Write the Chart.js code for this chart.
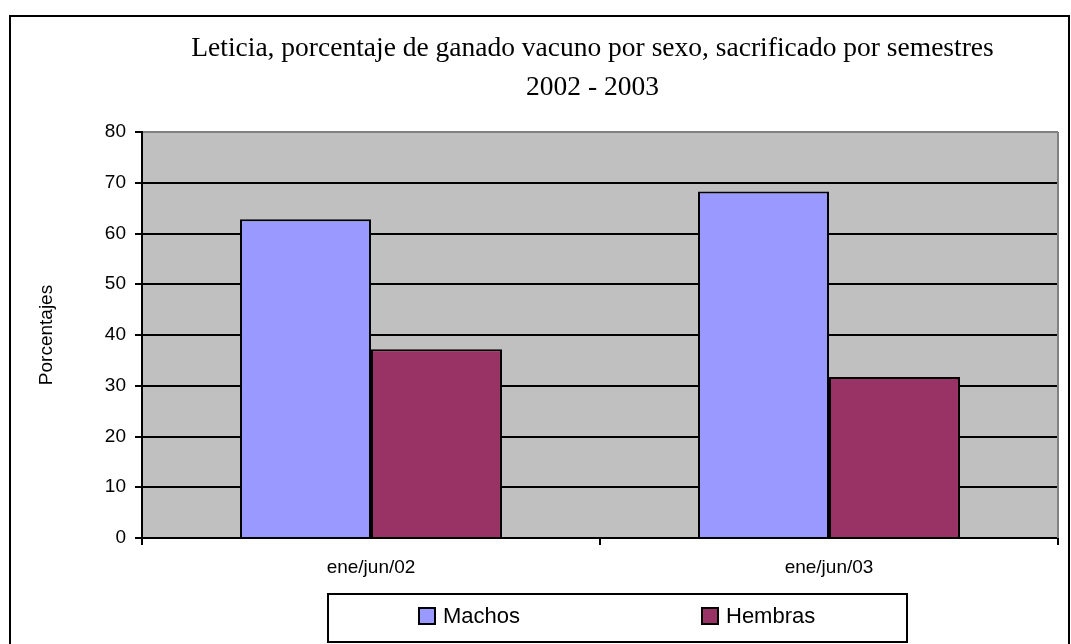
<!DOCTYPE html>
<html>
<head>
<meta charset="utf-8">
<script src="https://cdn.jsdelivr.net/npm/chart.js@4.4.1/dist/chart.umd.min.js"></script>
<style>
  body { margin: 0; background: #fff; }
  canvas { display: block; }
</style>
</head>
<body>
<canvas id="chartSacrificio" width="1071" height="644"></canvas>
<script>
const categories = ["ene/jun/02", "ene/jun/03"];
const machosValues = [62.8, 68.3];
const hembrasValues = [37.2, 31.7];
const yTicks = [0, 10, 20, 30, 40, 50, 60, 70, 80];

const chartElement = document.querySelector("#chartSacrificio");

Chart.defaults.color = "#000";
Chart.defaults.font.family = "'Liberation Sans', Arial, sans-serif";

// white page, black frame and grey plot background
const frameAndBackground = {
  id: "frameAndBackground",
  afterLayout: (chart) => {
    // the title is centred a bit left of the plot, as in the original sheet
    chart.titleBlock.left = 127;
    chart.titleBlock.right = chart.chartArea.right;
  },
  beforeDraw: (chart) => {
    const { ctx, chartArea } = chart;
    ctx.save();
    ctx.fillStyle = "#fff";
    ctx.fillRect(0, 0, chart.width, chart.height);
    ctx.strokeStyle = "#000";
    ctx.lineWidth = 2;
    ctx.strokeRect(10, 16, 1059, 700);
    ctx.fillStyle = "#C0C0C0";
    ctx.fillRect(chartArea.left, chartArea.top, chartArea.right - chartArea.left, chartArea.bottom - chartArea.top);
    ctx.restore();
  },
  afterDatasetsDraw: (chart) => {
    const { ctx, chartArea } = chart;
    ctx.save();
    ctx.strokeStyle = "#808080";
    ctx.lineWidth = 2;
    ctx.beginPath();
    ctx.moveTo(chartArea.right, chartArea.top);
    ctx.lineTo(chartArea.right, chartArea.bottom);
    ctx.stroke();
    ctx.restore();
  },
};

// boxed legend below the axis, like the spreadsheet one
const boxedLegend = {
  id: "boxedLegend",
  afterDraw: (chart) => {
    const { ctx } = chart;
    const itemX = [419, 702];
    ctx.save();
    ctx.strokeStyle = "#000";
    ctx.lineWidth = 2;
    ctx.strokeRect(328, 594, 579, 48);
    ctx.font = "22px 'Liberation Sans', Arial, sans-serif";
    ctx.textBaseline = "middle";
    ctx.textAlign = "left";
    chart.data.datasets.forEach((ds, i) => {
      ctx.fillStyle = ds.backgroundColor;
      ctx.fillRect(itemX[i], 608, 16, 16);
      ctx.strokeRect(itemX[i], 608, 16, 16);
      ctx.fillStyle = "#000";
      ctx.fillText(ds.label, itemX[i] + 24, 617);
    });
    ctx.restore();
  },
};

new Chart(chartElement, {
  type: "bar",
  data: {
    labels: categories,
    datasets: [
      {
        label: "Machos",
        data: machosValues,
        backgroundColor: "#9999FF",
        borderColor: "#000",
        borderWidth: 2,
        categoryPercentage: 0.572,
        barPercentage: 1,
      },
      {
        label: "Hembras",
        data: hembrasValues,
        backgroundColor: "#993366",
        borderColor: "#000",
        borderWidth: 2,
        categoryPercentage: 0.572,
        barPercentage: 1,
      },
    ],
  },
  options: {
    responsive: false,
    animation: false,
    devicePixelRatio: 1,
    layout: {
      padding: { left: 0, right: 13, top: 0, bottom: 0 },
    },
    scales: {
      x: {
        afterFit: (scale) => {
          scale.height = 106;
        },
        grid: {
          offset: true,
          drawOnChartArea: false,
          drawTicks: true,
          tickLength: 7,
          tickColor: "#000",
          lineWidth: 2,
        },
        border: { color: "#000", width: 2 },
        ticks: {
          padding: 11,
          font: { size: 19 },
          color: "#000",
        },
      },
      y: {
        min: 0,
        max: 80,
        afterFit: (scale) => {
          scale.width = 142;
        },
        afterBuildTicks: (scale) => {
          scale.ticks = yTicks.map((v) => ({ value: v }));
        },
        grid: {
          color: (context) => (context.tick && context.tick.value === 80 ? "#808080" : "#000"),
          tickColor: "#000",
          lineWidth: 2,
          tickLength: 7,
        },
        border: { color: "#000", width: 2 },
        ticks: {
          padding: 9,
          font: { size: 19 },
          color: "#000",
        },
        title: {
          display: true,
          text: "Porcentajes",
          font: { size: 19 },
          color: "#000",
          padding: { top: 35, bottom: 0 },
        },
      },
    },
    plugins: {
      legend: { display: false },
      tooltip: { enabled: false },
      title: {
        display: true,
        text: ["Leticia, porcentaje de ganado vacuno por sexo, sacrificado por semestres", "2002 - 2003"],
        font: { family: "'Liberation Serif', 'Times New Roman', serif", size: 27.5, weight: "normal", lineHeight: 1.4 },
        color: "#000",
        padding: { top: 30, bottom: 25 },
      },
    },
  },
  plugins: [frameAndBackground, boxedLegend],
});
</script>
</body>
</html>
